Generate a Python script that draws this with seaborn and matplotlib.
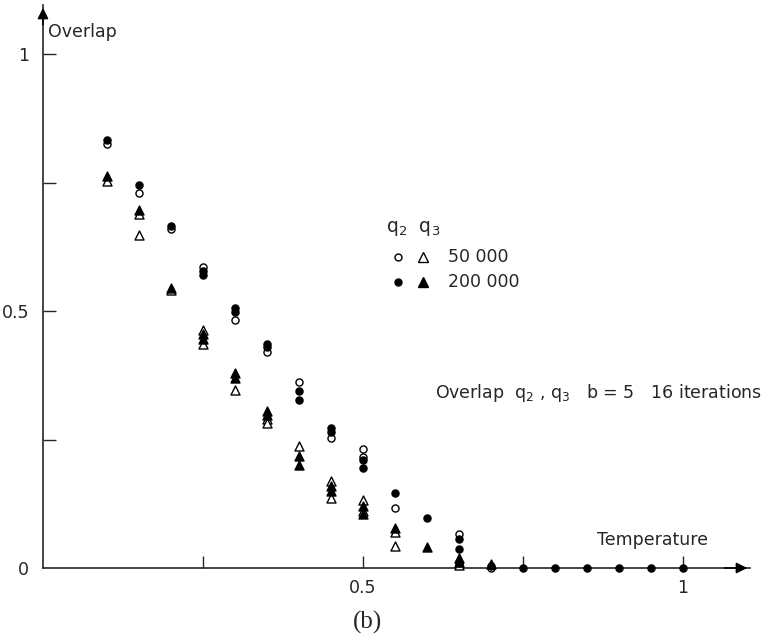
import numpy as np
import pandas as pd
import matplotlib
matplotlib.use('Agg')
import matplotlib.pyplot as plt
import seaborn as sns

# overlap q2, 50 000 sweeps (open circles)
t_q2_50k = [0.10, 0.15, 0.20, 0.25, 0.30, 0.35, 0.40, 0.45, 0.50, 0.50, 0.55, 0.65, 0.65, 0.70]
q2_50k = [0.825, 0.73, 0.66, 0.585, 0.483, 0.42, 0.362, 0.253, 0.232, 0.215, 0.117, 0.066, 0.005, 0.0]

# overlap q2, 200 000 sweeps (filled circles)
t_q2_200k = [0.10, 0.15, 0.20, 0.25, 0.25, 0.30, 0.30, 0.35, 0.35, 0.40, 0.40, 0.45, 0.45,
             0.50, 0.50, 0.55, 0.60, 0.65, 0.65, 0.65, 0.70, 0.75, 0.80, 0.85, 0.90, 0.95, 1.00]
q2_200k = [0.832, 0.745, 0.665, 0.578, 0.57, 0.505, 0.498, 0.435, 0.43, 0.345, 0.327, 0.273, 0.265,
           0.21, 0.195, 0.145, 0.097, 0.056, 0.037, 0.01, 0.003, 0.0, 0.0, 0.0, 0.0, 0.0, 0.0]

# overlap q3, 50 000 sweeps (open triangles)
t_q3_50k = [0.10, 0.15, 0.15, 0.20, 0.25, 0.25, 0.30, 0.35, 0.35, 0.40, 0.45, 0.45,
            0.50, 0.50, 0.55, 0.55, 0.65]
q3_50k = [0.752, 0.688, 0.648, 0.54, 0.463, 0.435, 0.347, 0.29, 0.283, 0.238, 0.17, 0.137,
          0.132, 0.11, 0.07, 0.043, 0.005]

# overlap q3, 200 000 sweeps (filled triangles)
t_q3_200k = [0.10, 0.15, 0.20, 0.25, 0.25, 0.30, 0.30, 0.35, 0.35, 0.40, 0.40, 0.45, 0.45,
             0.50, 0.50, 0.55, 0.60, 0.65, 0.65, 0.70]
q3_200k = [0.762, 0.697, 0.545, 0.455, 0.445, 0.38, 0.37, 0.305, 0.298, 0.218, 0.2, 0.16, 0.15,
           0.12, 0.105, 0.078, 0.041, 0.02, 0.012, 0.008]

series = [
    ('q2_50k', t_q2_50k, q2_50k, 'o', 'white', 26),
    ('q3_50k', t_q3_50k, q3_50k, '^', 'white', 42),
    ('q2_200k', t_q2_200k, q2_200k, 'o', 'black', 26),
    ('q3_200k', t_q3_200k, q3_200k, '^', 'black', 42),
]

sns.set_style('ticks')
plt.rcParams['font.family'] = ['DejaVu Sans']
plt.rcParams['mathtext.default'] = 'regular'

W, H = 766, 644
fig = plt.figure(figsize=(W / 100, H / 100), dpi=100)

def fx(px):
    return px / W

def fy(py):
    return 1 - py / H

# axes: x=0 at px 43, x=1 at px 683 ; y=0 at px 568, y=1 at px 54
x0, x1, y0, y1 = 43, 683, 568, 54
right, top = 750, 5
ax = fig.add_axes([fx(x0), fy(y0), fx(right) - fx(x0), fy(top) - fy(y0)])
ax.set_xlim(0, (right - x0) / (x1 - x0))
ax.set_ylim(0, (y0 - top) / (y0 - y1))

for name, t, v, mk, fc, s in series:
    d = pd.DataFrame({'temp': t, 'overlap': v})
    sns.scatterplot(data=d, x='temp', y='overlap', marker=mk, s=s, color=fc,
                    edgecolor='black', linewidth=1.0, ax=ax, clip_on=False, zorder=3)

ax.set_xlabel('')
ax.set_ylabel('')
for sp in ['top', 'right']:
    ax.spines[sp].set_visible(False)
for sp in ['left', 'bottom']:
    ax.spines[sp].set_linewidth(1.2)

ax.set_xticks([0.25, 0.5, 0.75, 1.0])
ax.set_xticklabels(['', '0.5', '', '1'])
ax.set_yticks([0, 0.25, 0.5, 0.75, 1.0])
ax.set_yticklabels(['0', '', '0.5', '', '1'])
ax.tick_params(axis='both', direction='in', length=9, width=1.0, labelsize=12.5)
ax.tick_params(axis='x', pad=8)
ax.tick_params(axis='y', pad=10)
ax.yaxis.get_major_ticks()[0].tick1line.set_visible(False)

# arrow heads on the axes
ax.annotate('', xy=(1, 0), xytext=(0.96, 0), xycoords='axes fraction',
            arrowprops=dict(arrowstyle='-|>', color='black', lw=1.2, mutation_scale=16))
ax.annotate('', xy=(0, 1), xytext=(0, 0.96), xycoords='axes fraction',
            arrowprops=dict(arrowstyle='-|>', color='black', lw=1.2, mutation_scale=16))

fs = 12.5
fig.text(fx(48), fy(32), 'Overlap', fontsize=fs, va='center', ha='left')
fig.text(fx(708), fy(540), 'Temperature', fontsize=fs, va='center', ha='right')
fig.text(fx(762), fy(393), 'Overlap  $q_2$ , $q_3$   b = 5   16 iterations', fontsize=12.5,
         va='center', ha='right')

# legend block
fig.text(fx(386), fy(228), '$q_2$  $q_3$', fontsize=fs + 1, va='center', ha='left')
fig.text(fx(448), fy(257), '50 000', fontsize=fs, va='center', ha='left')
fig.text(fx(448), fy(282), '200 000', fontsize=fs, va='center', ha='left')
fig.add_artist(plt.Line2D([fx(398)], [fy(257)], marker='o', ms=5, mfc='white', mec='black', mew=1))
fig.add_artist(plt.Line2D([fx(423)], [fy(257)], marker='^', ms=6.5, mfc='white', mec='black', mew=1))
fig.add_artist(plt.Line2D([fx(398)], [fy(282)], marker='o', ms=5, mfc='black', mec='black', mew=1))
fig.add_artist(plt.Line2D([fx(423)], [fy(282)], marker='^', ms=6.5, mfc='black', mec='black', mew=1))

fig.text(fx(367), fy(622), '(b)', fontsize=18, family=['Liberation Serif', 'DejaVu Serif'],
         va='center', ha='center')

fig.savefig('out.png', dpi=100)
